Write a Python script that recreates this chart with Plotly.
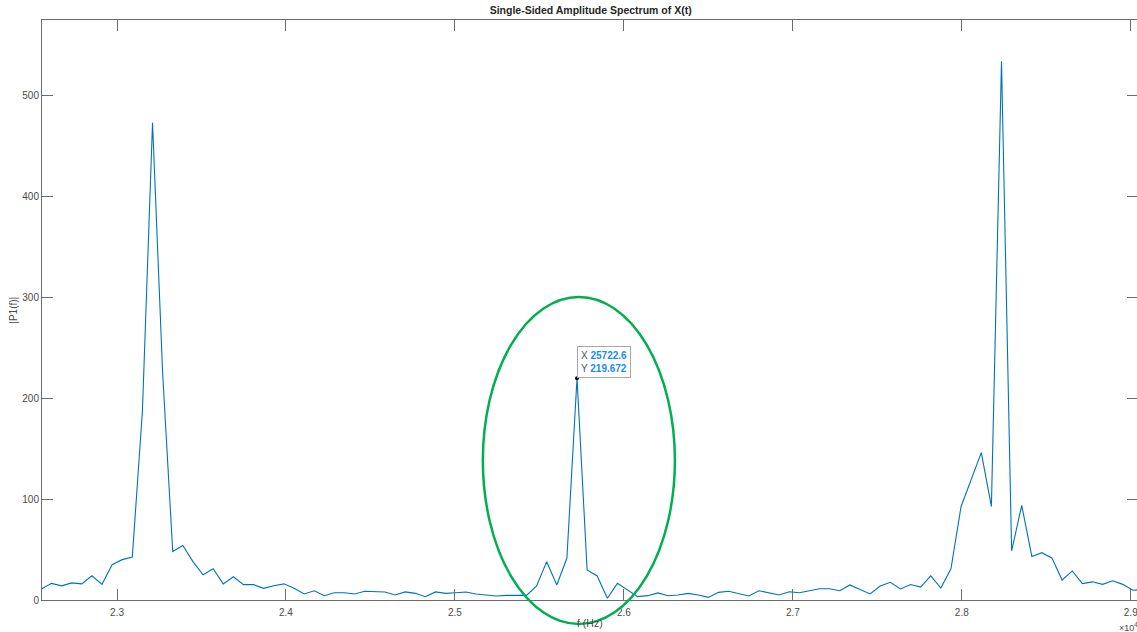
import plotly.graph_objects as go

# ---- data ----
bin_start = 377          # first FFT bin shown
df = 59.82               # frequency resolution (Hz)
amplitude = [
    11, 16.5, 14, 17, 16, 24, 15.5, 35, 40, 42.6,          # 377-386
    187, 473, 225, 48, 54, 38, 25, 31, 16, 23,             # 387-396
    15.2, 15.2, 11.6, 14.2, 16, 11.6, 6, 9.2, 4.3, 7.2,    # 397-406
    7.2, 6, 8.6, 8.6, 8, 5, 8, 6.6, 3.3, 8,                # 407-416
    6.6, 7.2, 8, 6, 5, 4, 4.6, 4.6, 4.6, 13.9,             # 417-426
    38, 14.9, 41.6, 219.672, 29.7, 23.8, 1.7, 16.5, 9.9, 3.3,  # 427-436
    4.3, 7, 4.2, 5, 6.6, 5, 2.6, 7.6, 8.6, 6,              # 437-446
    4, 9.2, 7.2, 5, 8.2, 7.2, 9.2, 11.2, 11.2, 9.2,        # 447-456
    14.9, 10.6, 6, 13.9, 17.5, 10.9, 15.3, 12.8, 24, 11.8, # 457-466
    31, 92.7, 119, 146, 92.7, 534, 48.7, 93.7, 43.2, 46.9, # 467-476
    41.4, 19.8, 28.8, 16.2, 18, 15.5, 19.1, 15.5, 9.7, 10.6,  # 477-486
]
freq = [round(df * (bin_start + i), 1) for i in range(len(amplitude))]

tip_index = 430 - bin_start
tip_x = [freq[tip_index]]
tip_y = [amplitude[tip_index]]

x_tickvals = [23000, 24000, 25000, 26000, 27000, 28000, 29000]
x_ticktext = ["2.3", "2.4", "2.5", "2.6", "2.7", "2.8", "2.9"]
y_tickvals = [0, 100, 200, 300, 400, 500]

title_text = "Single-Sided Amplitude Spectrum of X(t)"
x_label = "f (Hz)"
y_label = "|P1(f)|"

FONT = "Liberation Sans, Arial, Helvetica, sans-serif"
AX = "#6b6b6b"
TXT = "#4a4a4a"

x_range = [22556, 29037]
y_range = [0, 574.8]

fig = go.Figure()
fig.add_trace(go.Scatter(
    x=freq, y=amplitude, mode="lines",
    line=dict(color="#0072BD", width=1.1),
    hoverinfo="skip", showlegend=False,
))
fig.add_trace(go.Scatter(
    x=tip_x, y=tip_y, mode="markers", yaxis="y2",
    marker=dict(color="#111111", size=4),
    hoverinfo="skip", showlegend=False,
))

fig.add_annotation(
    x=tip_x[0], y=tip_y[0], xref="x", yref="y",
    xanchor="left", yanchor="bottom", showarrow=False, align="left",
    text=("<span style='color:#555555'>X</span> <b>%.1f</b><br>"
          "<span style='color:#555555'>Y</span> <b>%.3f</b>") % (tip_x[0], tip_y[0]),
    font=dict(family=FONT, size=10, color="#1a8cf0"),
    bgcolor="white", bordercolor="#a8a8a8", borderwidth=1, borderpad=3,
)

# green ellipse highlighting the middle peak (overlay, paper coords)
fig.add_shape(type="circle", xref="paper", yref="paper",
              x0=0.4026, x1=0.578, y0=-0.0414, y1=0.5224,
              line=dict(color="#00b050", width=2.5), layer="above")

fig.add_annotation(x=-0.0268, y=0.5, xref="paper", yref="paper",
                   text=y_label, textangle=-90, showarrow=False,
                   xanchor="center", yanchor="middle",
                   font=dict(family=FONT, size=10, color=TXT))
fig.add_annotation(x=0.5003, y=-0.0397, xref="paper", yref="paper",
                   text=x_label, showarrow=False,
                   xanchor="center", yanchor="middle",
                   font=dict(family=FONT, size=10.5, color=TXT))
fig.add_annotation(x=0.9817, y=-0.0466, xref="paper", yref="paper",
                   text="×10<sup>4</sup>", showarrow=False,
                   xanchor="left", yanchor="middle",
                   font=dict(family=FONT, size=9, color=TXT))

fig.update_layout(
    width=1137, height=632,
    margin=dict(l=42, r=0, t=20, b=32),
    paper_bgcolor="white", plot_bgcolor="white",
    title=dict(text="<b>%s</b>" % title_text, x=0.5195, xanchor="center",
               y=1 - 10 / 632, yanchor="middle", yref="container",
               font=dict(family=FONT, size=10.5, color="#262626")),
    xaxis=dict(range=x_range, tickvals=x_tickvals, ticktext=x_ticktext,
               ticks="inside", ticklen=11, tickcolor=AX, tickwidth=1,
               showline=True, linecolor=AX, linewidth=1, mirror="ticks",
               showgrid=False, zeroline=False, ticklabeloverflow="allow",
               automargin=False, ticklabelstandoff=3,
               tickfont=dict(family=FONT, size=10, color=TXT)),
    yaxis=dict(range=y_range, tickvals=y_tickvals,
               ticks="inside", ticklen=11, tickcolor=AX, tickwidth=1,
               showline=True, linecolor=AX, linewidth=1, mirror=False,
               showgrid=False, zeroline=False, automargin=False,
               tickfont=dict(family=FONT, size=10, color=TXT)),
    yaxis2=dict(range=y_range, tickvals=y_tickvals, overlaying="y",
                side="right", ticks="inside", ticklen=10, tickcolor=AX,
                showticklabels=False, showline=False, showgrid=False,
                zeroline=False),
)

fig.write_html("out.html")
